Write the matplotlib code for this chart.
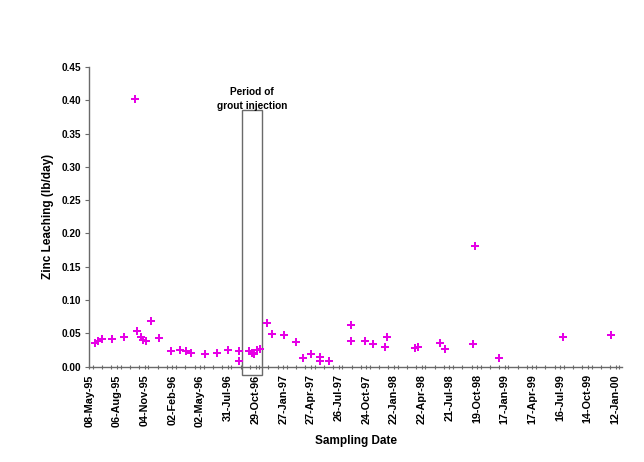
import matplotlib

matplotlib.use("Agg")
import matplotlib.dates as mdates
import matplotlib.pyplot as plt
import pandas as pd
from matplotlib.patches import Rectangle
from matplotlib.ticker import MultipleLocator

SAMPLE_DATES = [
    "1995-05-26", "1995-06-06", "1995-06-19", "1995-07-22", "1995-08-30",
    "1995-10-03", "1995-10-11", "1995-10-23", "1995-10-30", "1995-11-07",
    "1995-11-23", "1995-12-20", "1996-01-27", "1996-02-27", "1996-03-17",
    "1996-04-02", "1996-05-18", "1996-06-27", "1996-08-02", "1996-09-06",
    "1996-09-06", "1996-10-09", "1996-10-17", "1996-10-24", "1996-11-02",
    "1996-11-13", "1996-12-04", "1996-12-23", "1997-01-31", "1997-03-08",
    "1997-04-02", "1997-04-27", "1997-05-26", "1997-05-26", "1997-06-25",
    "1997-09-03", "1997-09-03", "1997-10-20", "1997-11-16", "1997-12-24",
    "1997-12-29", "1998-03-31", "1998-04-11", "1998-06-20", "1998-07-07",
    "1998-10-07", "1998-10-12", "1998-12-29", "1999-07-25", "1999-12-29",
]
ZINC_LOAD = [
    0.035, 0.039, 0.041, 0.041, 0.044,
    0.402, 0.053, 0.044, 0.040, 0.038,
    0.068, 0.043, 0.024, 0.025, 0.023,
    0.020, 0.019, 0.020, 0.025, 0.023,
    0.008, 0.023, 0.020, 0.019, 0.025,
    0.026, 0.066, 0.049, 0.048, 0.037,
    0.013, 0.019, 0.014, 0.009, 0.009,
    0.063, 0.038, 0.038, 0.034, 0.030,
    0.044, 0.028, 0.029, 0.035, 0.026,
    0.034, 0.181, 0.013, 0.044, 0.047,
]

AXIS_START = "1995-05-08"
AXIS_END = "2000-02-01"
TICK_DATES = pd.date_range(AXIS_START, periods=20, freq="90D")

GROUT_START = "1996-09-15"
GROUT_END = "1996-11-19"
GROUT_TOP = 0.386
GROUT_BOTTOM = -0.012

GREY = "#6a6a6a"
MAGENTA = "#e600e6"

plt.rcParams.update({"font.family": "Liberation Sans", "font.weight": "bold",
                     "axes.labelweight": "bold"})

fig = plt.figure(figsize=(6.44, 4.62), dpi=100)
ax = fig.add_axes([0.1387, 0.2063, 0.8267, 0.6487])

x = mdates.date2num(pd.to_datetime(SAMPLE_DATES))
ax.plot(x, ZINC_LOAD, linestyle="none", marker="P", markersize=6,
        color=MAGENTA, markeredgewidth=0, zorder=3)

g0 = mdates.date2num(pd.Timestamp(GROUT_START))
g1 = mdates.date2num(pd.Timestamp(GROUT_END))
ax.add_patch(Rectangle((g0, GROUT_BOTTOM), g1 - g0, GROUT_TOP - GROUT_BOTTOM,
                       fill=False, edgecolor=GREY, linewidth=1.0,
                       clip_on=False, zorder=2))
ax.text((g0 + g1) / 2, GROUT_TOP - 0.002, "Period of\ngrout injection",
        ha="center", va="bottom", fontsize=7.3, linespacing=1.45)

ax.set_xlim(mdates.date2num(pd.Timestamp(AXIS_START)),
            mdates.date2num(pd.Timestamp(AXIS_END)))
ax.set_ylim(0, 0.45)

ax.set_xticks(mdates.date2num(TICK_DATES))
ax.set_xticklabels([d.strftime("%d-%b-%y") for d in TICK_DATES],
                   rotation=90, fontsize=7.8)
ax.xaxis.set_minor_locator(MultipleLocator(30))
ax.yaxis.set_major_locator(MultipleLocator(0.05))
ax.yaxis.set_major_formatter(lambda v, _: f"{v:.2f}")
ax.tick_params(axis="y", labelsize=7.2, length=3, color=GREY, width=0.8, pad=3)
ax.tick_params(axis="x", which="both", direction="inout", length=3,
               color=GREY, width=0.8, pad=4)

for side in ("top", "right"):
    ax.spines[side].set_visible(False)
for side in ("left", "bottom"):
    ax.spines[side].set_color(GREY)
    ax.spines[side].set_linewidth(1.0)

ax.set_ylabel("Zinc Leaching (lb/day)", fontsize=8.5, labelpad=5)
ax.set_xlabel("Sampling Date", fontsize=8.5, labelpad=6)

fig.savefig("out.png", dpi=100)
